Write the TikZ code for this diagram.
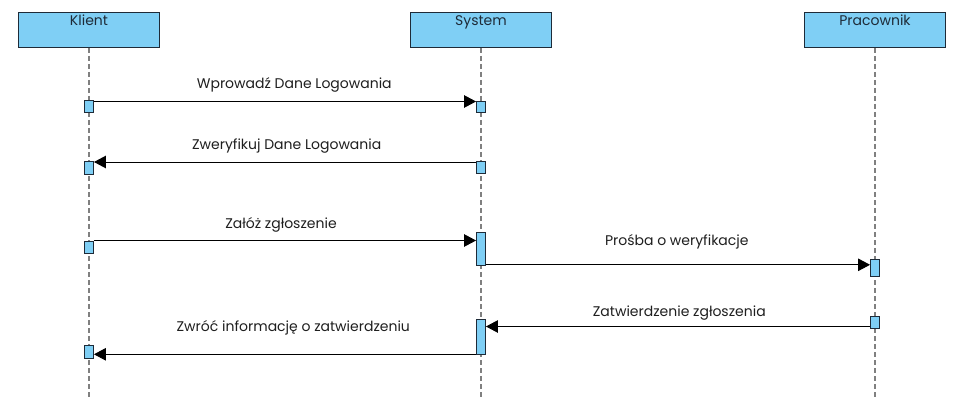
\documentclass[tikz,border=0pt]{standalone}
\usepackage{fontspec}
\setmainfont{Poppins}
\usetikzlibrary{arrows.meta}
\definecolor{actfill}{HTML}{7FCFF5}
\definecolor{actdraw}{HTML}{1E2B38}
\definecolor{lifegray}{HTML}{808080}
\definecolor{txt}{HTML}{1F1F1F}
\begin{document}
\begin{tikzpicture}[x=1pt,y=-1pt,
  header/.style={draw=actdraw,fill=actfill,line width=1pt,minimum width=141pt,minimum height=35pt,inner sep=0pt,anchor=north west},
  htext/.style={text=actdraw,font=\fontsize{14}{16}\selectfont,anchor=base},
  act/.style={draw=actdraw,fill=actfill,line width=0.9pt,minimum width=9pt,inner sep=0pt,anchor=north},
  life/.style={draw=lifegray,line width=1.6pt,dash pattern=on 5pt off 3pt},
  msg/.style={draw=black,line width=1pt,-{Triangle[length=12pt,width=12.5pt]}},
  lbl/.style={text=txt,font=\fontsize{14}{16}\selectfont,anchor=base}]
\useasboundingbox[fill=white] (0,0) rectangle (966,417);
% headers
\node[header] (K) at (18,12) {};
\node[header] (S) at (410,12) {};
\node[header] (P) at (804,12) {};
\node[htext] (Kt) at (89,26) {Klient};
\node[htext] (St) at (481,26) {System};
\node[htext] (Pt) at (875,26) {Pracownik};
% lifeline ends
\coordinate (Ke) at (89,397);
\coordinate (Se) at (481,397);
\coordinate (Pe) at (875,397);
\draw[life] (K.south) -- (Ke);
\draw[life] (S.south) -- (Se);
\draw[life] (P.south) -- (Pe);
% activations
\node[act,minimum height=12pt] (K1) at (89,100) {};
\node[act,minimum height=13pt] (K2) at (89,161) {};
\node[act,minimum height=11.5pt] (K3) at (89,241) {};
\node[act,minimum height=12.5pt] (K4) at (89,345) {};
\node[act,minimum height=11.5pt] (S1) at (481,101) {};
\node[act,minimum height=12pt] (S2) at (481,161) {};
\node[act,minimum height=33pt] (S3) at (481,232) {};
\node[act,minimum height=35pt] (S4) at (481,319) {};
\node[act,minimum height=17pt] (P1) at (875,259) {};
\node[act,minimum height=12pt] (P2) at (875,316) {};
% messages
\draw[msg] (K1.east |- 0,101.5) -- (S1.west |- 0,101.5);
\draw[msg] (S2.west |- 0,162) -- (K2.east |- 0,162);
\draw[msg] (K3.east |- 0,240.5) -- (S3.west |- 0,240.5);
\draw[msg] (S3.east |- 0,264.8) -- (P1.west |- 0,264.8);
\draw[msg] (P2.west |- 0,326.5) -- (S4.east |- 0,326.5);
\draw[msg] (S4.west |- 0,354.3) -- (K4.east |- 0,354.3);
% labels
\node[lbl] (l1) at (294.3,89) {Wprowadź Dane Logowania};
\node[lbl] (l2) at (286.7,149.3) {Zweryfikuj Dane Logowania};
\node[lbl] (l3) at (281,228.3) {Załóż zgłoszenie};
\node[lbl] (l4) at (676.8,245) {Prośba o weryfikacje};
\node[lbl] (l5) at (679.3,316.7) {Zatwierdzenie zgłoszenia};
\node[lbl] (l6) at (293.3,331.3) {Zwróć informację o zatwierdzeniu};
\end{tikzpicture}
\end{document}
